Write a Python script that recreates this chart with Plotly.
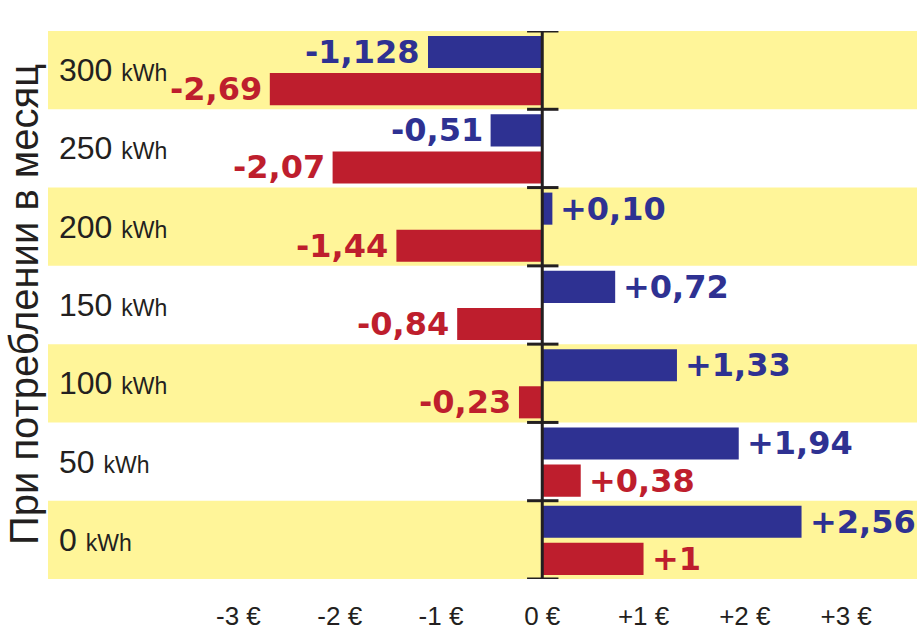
import plotly.graph_objects as go

categories = ["300", "250", "200", "150", "100", "50", "0"]
unit = "kWh"
blue_values = [-1.128, -0.51, 0.10, 0.72, 1.33, 1.94, 2.56]
red_values = [-2.69, -2.07, -1.44, -0.84, -0.23, 0.38, 1]
blue_labels = ["-1,128", "-0,51", "+0,10", "+0,72", "+1,33", "+1,94", "+2,56"]
red_labels = ["-2,69", "-2,07", "-1,44", "-0,84", "-0,23", "+0,38", "+1"]
tick_vals = [-3, -2, -1, 0, 1, 2, 3]
tick_text = ["-3 €", "-2 €", "-1 €", "0 €", "+1 €", "+2 €", "+3 €"]
y_title = "При потреблении в месяц"

BLUE = "#2E3192"
RED = "#BE1E2D"
YELLOW = "#FFF599"
DARK = "#231F20"

n = len(categories)
ypos = list(range(n))
bar_w = 0.41
blue_off = -0.436
red_off = 0.038

fig = go.Figure()
fig.add_trace(go.Bar(x=blue_values, y=ypos, orientation="h", width=bar_w,
                     offset=blue_off, marker=dict(color=BLUE, line=dict(width=0)),
                     showlegend=False, hoverinfo="skip"))
fig.add_trace(go.Bar(x=red_values, y=ypos, orientation="h", width=bar_w,
                     offset=red_off, marker=dict(color=RED, line=dict(width=0)),
                     showlegend=False, hoverinfo="skip"))

shapes = []
# alternating bands
for i in range(n):
    if i % 2 == 0:
        shapes.append(dict(type="rect", xref="paper", yref="y", x0=0, x1=1,
                           y0=i - 0.5, y1=i + 0.5, fillcolor=YELLOW,
                           line=dict(width=0), layer="below"))
# axis line
shapes.append(dict(type="line", xref="x", yref="y", x0=0, x1=0,
                   y0=-0.5 - 0.2, y1=n - 0.5 + 0.2, line=dict(color=DARK, width=3)))
# boundary ticks
for i in range(n + 1):
    shapes.append(dict(type="line", xref="x", yref="y", x0=-0.15, x1=0.16,
                       y0=i - 0.5, y1=i - 0.5, line=dict(color=DARK, width=3)))

annotations = []
vfont = dict(family="DejaVu Sans", size=32, weight="bold")
for i in range(n):
    for vals, labs, off, col in ((blue_values, blue_labels, blue_off, BLUE),
                                 (red_values, red_labels, red_off, RED)):
        v = vals[i]
        annotations.append(dict(x=v, y=i + off + bar_w / 2, xref="x", yref="y",
                                text=labs[i], showarrow=False,
                                xanchor="left" if v >= 0 else "right",
                                xshift=6 if v >= 0 else -6, yanchor="middle",
                                font=dict(color=col, **vfont)))
    annotations.append(dict(x=0.0104, y=i, xref="paper", yref="y",
                            text=f"{categories[i]} <span style='font-size:23px'>{unit}</span>",
                            showarrow=False, xanchor="left", yanchor="middle",
                            font=dict(family="Liberation Sans", size=32, color=DARK)))

annotations.append(dict(x=-0.0276, y=0.5, xref="paper", yref="paper", text=y_title,
                        textangle=-90, showarrow=False, xanchor="center", yanchor="middle",
                        font=dict(family="Liberation Sans", size=40, color=DARK)))

fig.update_layout(
    width=917, height=633,
    margin=dict(l=48, r=0, t=31, b=54),
    paper_bgcolor="white", plot_bgcolor="white",
    barmode="overlay",
    shapes=shapes, annotations=annotations,
    xaxis=dict(range=[-4.88, 3.70], tickvals=tick_vals, ticktext=tick_text,
               showgrid=False, zeroline=False, showline=False, ticks="",
               ticklabelstandoff=19, automargin=False,
               tickfont=dict(family="Liberation Sans", size=26, color=DARK)),
    yaxis=dict(range=[n - 0.5, -0.5], showgrid=False, zeroline=False,
               showline=False, showticklabels=False, ticks="", automargin=False),
)

fig.write_html("out.html")
